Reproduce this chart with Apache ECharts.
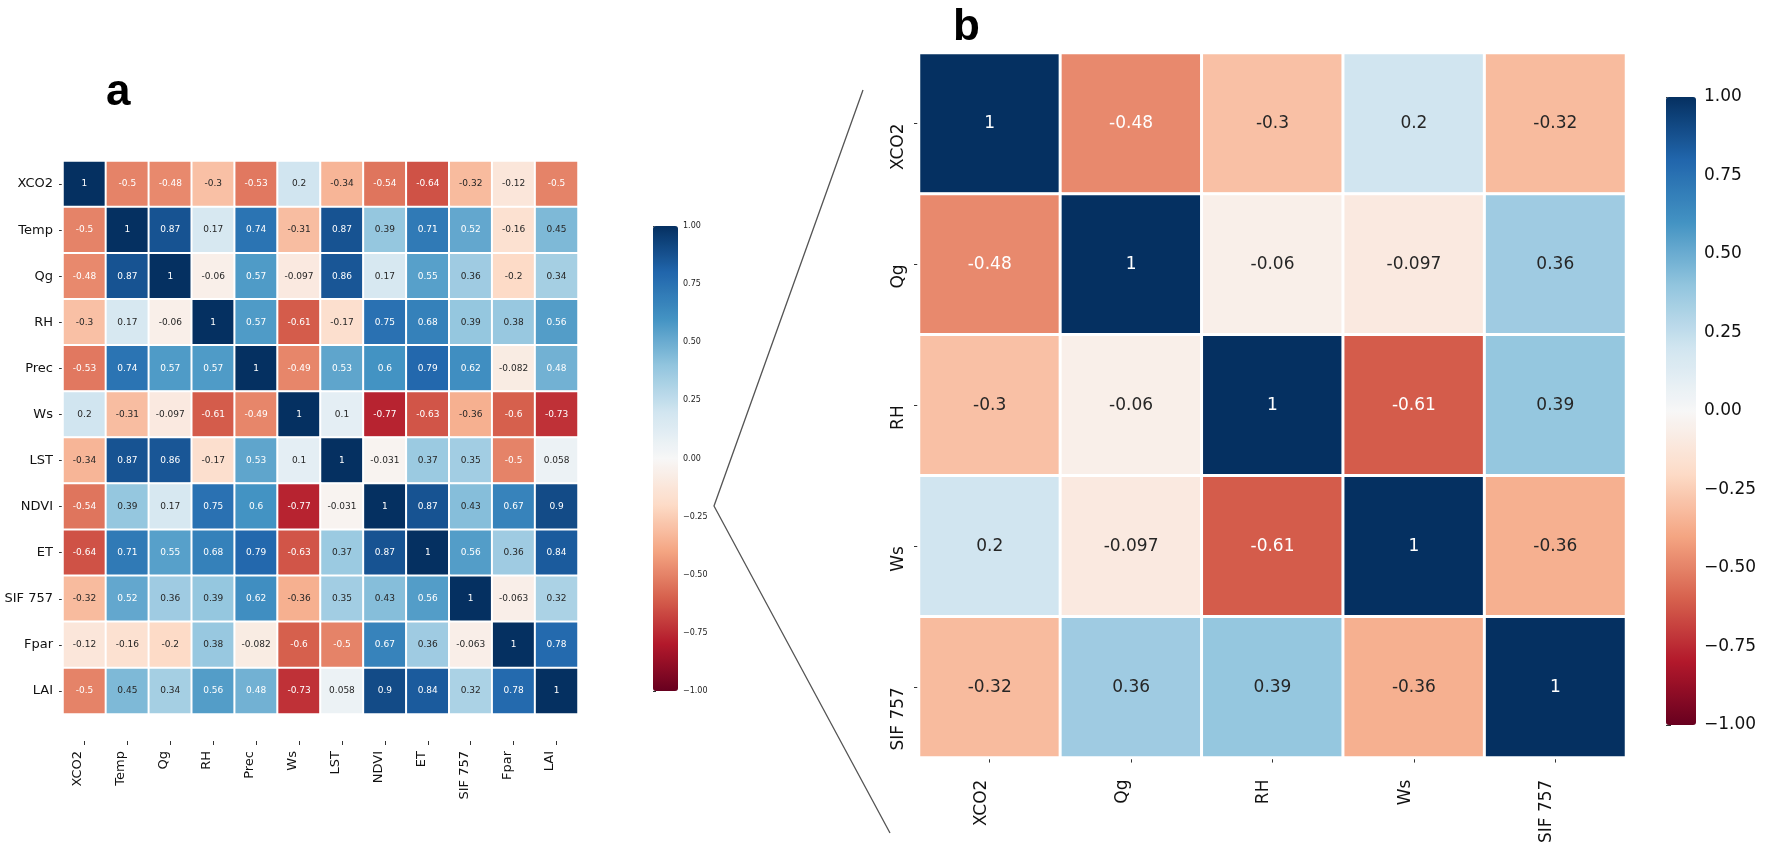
<!DOCTYPE html>
<html>
<head>
<meta charset="utf-8">
<title>Correlation heatmaps</title>
<script src="https://cdn.jsdelivr.net/npm/echarts@6/dist/echarts.min.js"></script>
<style>
  html, body { margin: 0; padding: 0; background: #fff; }
  #chart { width: 1769px; height: 846px; }
</style>
</head>
<body>
<div id="chart"></div>
<script>
// panel a: full correlation matrix
var varsA = ["XCO2", "Temp", "Qg", "RH", "Prec", "Ws", "LST", "NDVI", "ET", "SIF 757", "Fpar", "LAI"];
var aXCO2 = [1, -0.5, -0.48, -0.3, -0.53, 0.2, -0.34, -0.54, -0.64, -0.32, -0.12, -0.5];
var aTemp = [-0.5, 1, 0.87, 0.17, 0.74, -0.31, 0.87, 0.39, 0.71, 0.52, -0.16, 0.45];
var aQg   = [-0.48, 0.87, 1, -0.06, 0.57, -0.097, 0.86, 0.17, 0.55, 0.36, -0.2, 0.34];
var aRH   = [-0.3, 0.17, -0.06, 1, 0.57, -0.61, -0.17, 0.75, 0.68, 0.39, 0.38, 0.56];
var aPrec = [-0.53, 0.74, 0.57, 0.57, 1, -0.49, 0.53, 0.6, 0.79, 0.62, -0.082, 0.48];
var aWs   = [0.2, -0.31, -0.097, -0.61, -0.49, 1, 0.1, -0.77, -0.63, -0.36, -0.6, -0.73];
var aLST  = [-0.34, 0.87, 0.86, -0.17, 0.53, 0.1, 1, -0.031, 0.37, 0.35, -0.5, 0.058];
var aNDVI = [-0.54, 0.39, 0.17, 0.75, 0.6, -0.77, -0.031, 1, 0.87, 0.43, 0.67, 0.9];
var aET   = [-0.64, 0.71, 0.55, 0.68, 0.79, -0.63, 0.37, 0.87, 1, 0.56, 0.36, 0.84];
var aSIF  = [-0.32, 0.52, 0.36, 0.39, 0.62, -0.36, 0.35, 0.43, 0.56, 1, -0.063, 0.32];
var aFpar = [-0.12, -0.16, -0.2, 0.38, -0.082, -0.6, -0.5, 0.67, 0.36, -0.063, 1, 0.78];
var aLAI  = [-0.5, 0.45, 0.34, 0.56, 0.48, -0.73, 0.058, 0.9, 0.84, 0.32, 0.78, 1];
var rowsA = [aXCO2, aTemp, aQg, aRH, aPrec, aWs, aLST, aNDVI, aET, aSIF, aFpar, aLAI];

// panel b: zoomed subset
var varsB = ["XCO2", "Qg", "RH", "Ws", "SIF 757"];
var bXCO2 = [1, -0.48, -0.3, 0.2, -0.32];
var bQg   = [-0.48, 1, -0.06, -0.097, 0.36];
var bRH   = [-0.3, -0.06, 1, -0.61, 0.39];
var bWs   = [0.2, -0.097, -0.61, 1, -0.36];
var bSIF  = [-0.32, 0.36, 0.39, -0.36, 1];
var rowsB = [bXCO2, bQg, bRH, bWs, bSIF];

// RdBu_r, low -> high
var rdbuR = ["#67001f", "#b2182b", "#d6604d", "#f4a582", "#fddbc7", "#f7f7f7",
             "#d1e5f0", "#92c5de", "#4393c3", "#2166ac", "#053061"];

function hexRgb(h) {
  return [parseInt(h.slice(1, 3), 16), parseInt(h.slice(3, 5), 16), parseInt(h.slice(5, 7), 16)];
}
function cellColor(v) {
  var t = (v + 1) / 2 * (rdbuR.length - 1);
  var i = Math.min(Math.floor(t), rdbuR.length - 2);
  var f = t - i;
  var c0 = hexRgb(rdbuR[i]), c1 = hexRgb(rdbuR[i + 1]);
  return [0, 1, 2].map(function (k) { return (c0[k] + (c1[k] - c0[k]) * f) / 255; });
}
// same rule seaborn uses for annotation colour
function textColor(v) {
  var rgb = cellColor(v).map(function (c) {
    return c <= 0.03928 ? c / 12.92 : Math.pow((c + 0.055) / 1.055, 2.4);
  });
  var lum = 0.2126 * rgb[0] + 0.7152 * rgb[1] + 0.0722 * rgb[2];
  return lum > 0.408 ? "#262626" : "#ffffff";
}
function toCells(rows) {
  var out = [];
  rows.forEach(function (row, y) {
    row.forEach(function (v, x) {
      out.push({ value: [x, y, v], label: { color: textColor(v) } });
    });
  });
  return out;
}
function cbarLabel(v) {
  return (v < 0 ? "\u2212" : "") + Math.abs(v).toFixed(2);
}

var FONT = "DejaVu Sans";
var chart = echarts.init(document.getElementById("chart"));

var option = {
  backgroundColor: "#fff",
  animation: false,
  textStyle: { fontFamily: FONT },
  grid: [
    { left: 63, top: 161, width: 515, height: 553 },   // a
    { left: 919, top: 53, width: 707, height: 710 },   // b
    { left: 653, top: 226, width: 25, height: 465 },   // colorbar a
    { left: 1666, top: 97, width: 30, height: 628 }    // colorbar b
  ],
  xAxis: [
    {
      gridIndex: 0, type: "category", data: varsA, offset: 27,
      axisLine: { show: false },
      axisTick: { show: true, length: 4, alignWithLabel: true, lineStyle: { color: "#333" } },
      axisLabel: { rotate: 90, fontSize: 13, color: "#111", margin: 10, align: "right", verticalAlign: "bottom", interval: 0 },
      splitArea: { show: false }
    },
    {
      gridIndex: 1, type: "category", data: varsB,
      axisLine: { show: false },
      axisTick: { show: true, length: 5, alignWithLabel: true, lineStyle: { color: "#333" } },
      axisLabel: { rotate: 90, fontSize: 17, color: "#111", margin: 22, align: "right", verticalAlign: "bottom", interval: 0 },
      splitArea: { show: false }
    },
    { gridIndex: 2, type: "value", show: false, min: 0, max: 1 },
    { gridIndex: 3, type: "value", show: false, min: 0, max: 1 }
  ],
  yAxis: [
    {
      gridIndex: 0, type: "category", data: varsA, inverse: true,
      axisLine: { show: false },
      axisTick: { show: true, length: 4, alignWithLabel: true, lineStyle: { color: "#333" } },
      axisLabel: { fontSize: 13, color: "#111", margin: 10, interval: 0 },
      splitArea: { show: false }
    },
    {
      gridIndex: 1, type: "category", data: varsB, inverse: true,
      axisLine: { show: false },
      axisTick: { show: true, length: 5, alignWithLabel: true, lineStyle: { color: "#333" } },
      axisLabel: { rotate: 90, fontSize: 17, color: "#111", margin: 12, align: "right", verticalAlign: "bottom", interval: 0 },
      splitArea: { show: false }
    },
    {
      gridIndex: 2, type: "value", position: "right", min: -1, max: 1, interval: 0.25,
      axisLine: { show: false },
      axisTick: { show: true, length: 3, lineStyle: { color: "#333" } },
      axisLabel: { fontSize: 8, color: "#222", margin: 5, formatter: cbarLabel },
      splitLine: { show: false }
    },
    {
      gridIndex: 3, type: "value", position: "right", min: -1, max: 1, interval: 0.25,
      axisLine: { show: false },
      axisTick: { show: true, length: 5, lineStyle: { color: "#333" } },
      axisLabel: { fontSize: 17, color: "#111", margin: 8, formatter: cbarLabel },
      splitLine: { show: false }
    }
  ],
  visualMap: [
    {
      type: "continuous", seriesIndex: 0, min: -1, max: 1, calculable: false, hoverLink: false,
      inRange: { color: rdbuR }, left: 653, top: 226, itemWidth: 25, itemHeight: 465, padding: 0
    },
    {
      type: "continuous", seriesIndex: 1, min: -1, max: 1, calculable: false, hoverLink: false,
      inRange: { color: rdbuR }, left: 1666, top: 97, itemWidth: 30, itemHeight: 628, padding: 0
    }
  ],
  series: [
    {
      type: "heatmap", xAxisIndex: 0, yAxisIndex: 0, data: toCells(rowsA),
      itemStyle: { borderColor: "#fff", borderWidth: 2 },
      label: { show: true, fontSize: 9, formatter: function (p) { return String(p.value[2]); } }
    },
    {
      type: "heatmap", xAxisIndex: 1, yAxisIndex: 1, data: toCells(rowsB),
      itemStyle: { borderColor: "#fff", borderWidth: 3 },
      label: { show: true, fontSize: 17, formatter: function (p) { return String(p.value[2]); } }
    }
  ],
  graphic: [
    {
      type: "polyline", silent: true,
      shape: { points: [[863, 90], [714, 506], [890, 833]] },
      style: { stroke: "#555", lineWidth: 1.3, fill: null }
    },
    {
      type: "text", left: 106, top: 71,
      style: { text: "a", font: "bold 44px 'Liberation Sans'", fill: "#000" }
    },
    {
      type: "text", left: 953, top: 6,
      style: { text: "b", font: "bold 44px 'Liberation Sans'", fill: "#000" }
    }
  ]
};

chart.setOption(option);
window.addEventListener("resize", function () { chart.resize(); });
</script>
</body>
</html>
